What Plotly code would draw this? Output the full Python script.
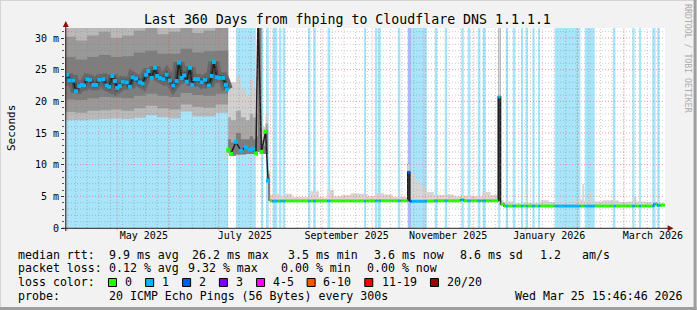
import plotly.graph_objects as go
import pandas as pd

# ---------------- DATA ----------------
title_text = "Last 360 Days from fhping to Cloudflare DNS 1.1.1.1"
x_start = "2025-03-30 15:46"
x_end = "2026-03-25 15:46"
y_top = 31.58

label_dates = ["2025-05-16 23:00", "2025-07-16 14:00", "2025-09-15 14:00",
               "2025-11-15 12:00", "2026-01-15 05:00", "2026-03-18 10:00"]
label_text = ["May 2025", "July 2025", "September 2025", "November 2025",
              "January 2026", "March 2026"]
y_tickvals = [0, 5, 10, 15, 20, 25, 30]
y_ticktext = ["0", "5 m", "10 m", "15 m", "20 m", "25 m", "30 m"]

# loss periods (background colouring)
loss_start = ["2025-03-30 15:46", "2025-07-11 05:00", "2025-07-26 14:00", "2025-07-29 19:00",
              "2025-08-02 05:00", "2025-08-06 14:00", "2025-08-08 05:00", "2025-08-23 13:00",
              "2025-08-26 13:00", "2025-09-04 04:00", "2025-09-26 07:00", "2025-10-03 03:00",
              "2025-10-04 23:00", "2025-10-16 08:00", "2025-10-22 07:00", "2025-10-24 14:00",
              "2025-11-07 12:00", "2025-11-13 12:00", "2025-11-23 12:00", "2025-11-27 07:00",
              "2025-12-03 07:00", "2025-12-06 07:00", "2025-12-15 14:00", "2025-12-20 02:00",
              "2025-12-24 07:00", "2025-12-29 12:00", "2026-01-01 12:00", "2026-01-05 02:00",
              "2026-01-08 12:00", "2026-01-18 12:00", "2026-02-05 12:00", "2026-02-23 00:00",
              "2026-03-06 00:00", "2026-03-10 10:00", "2026-03-18 00:00", "2026-03-21 00:00"]
loss_end = ["2025-07-06 14:00", "2025-07-23 04:00", "2025-07-27 14:00", "2025-07-30 23:00",
            "2025-08-05 02:00", "2025-08-07 11:00", "2025-08-09 17:00", "2025-08-24 21:00",
            "2025-08-28 04:00", "2025-09-05 20:00", "2025-09-27 05:00", "2025-10-04 01:00",
            "2025-10-06 03:00", "2025-10-17 20:00", "2025-10-24 14:00", "2025-11-02 19:00",
            "2025-11-09 00:00", "2025-11-15 00:00", "2025-11-24 22:00", "2025-11-28 22:00",
            "2025-12-04 22:00", "2025-12-08 02:00", "2025-12-16 20:00", "2025-12-21 12:00",
            "2025-12-25 22:00", "2025-12-30 12:00", "2026-01-02 12:00", "2026-01-06 12:00",
            "2026-01-09 12:00", "2026-02-02 22:00", "2026-02-11 12:00", "2026-02-23 22:00",
            "2026-03-07 10:00", "2026-03-11 02:00", "2026-03-20 00:00", "2026-03-22 10:00"]
loss_level = [1, 1, 1, 1, 1, 1, 1, 1, 1, 1, 1, 1, 1, 1, 2, 1, 1, 1, 1, 1, 1, 1, 1, 1,
              1, 1, 1, 1, 1, 1, 1, 1, 1, 1, 1, 1]

# segment A (spring): median rtt (ms)
a_time = ["2025-04-01 00:00", "2025-04-02 06:00", "2025-04-04 15:00", "2025-04-06 06:00",
          "2025-04-08 06:00", "2025-04-09 16:00", "2025-04-11 01:00", "2025-04-13 00:00",
          "2025-04-14 16:00", "2025-04-16 15:00", "2025-04-18 06:00", "2025-04-20 06:00",
          "2025-04-22 15:00", "2025-04-24 16:00", "2025-04-26 05:00", "2025-04-28 00:00",
          "2025-04-29 15:00", "2025-05-01 00:00", "2025-05-02 15:00", "2025-05-04 06:00",
          "2025-05-06 16:00", "2025-05-08 15:00", "2025-05-10 06:00", "2025-05-12 06:00",
          "2025-05-14 15:00", "2025-05-16 06:00", "2025-05-18 06:00", "2025-05-19 15:00",
          "2025-05-21 16:00", "2025-05-23 15:00", "2025-05-25 00:00", "2025-05-26 15:00",
          "2025-05-28 14:00", "2025-05-30 15:00", "2025-06-01 15:00", "2025-06-03 14:00",
          "2025-06-05 15:00", "2025-06-07 00:00", "2025-06-08 15:00", "2025-06-10 05:00",
          "2025-06-11 15:00", "2025-06-13 15:00", "2025-06-15 00:00", "2025-06-16 15:00",
          "2025-06-18 14:00", "2025-06-20 15:00", "2025-06-22 15:00", "2025-06-25 00:00",
          "2025-06-26 15:00", "2025-06-28 00:00", "2025-06-29 15:00", "2025-07-01 04:00",
          "2025-07-03 14:00", "2025-07-05 05:00", "2025-07-05 23:00"]
a_med = [24.2, 23.3, 23.3, 21.6, 22.4, 22.6, 22.5, 23.5, 23.4, 22.6, 22.6, 23.4, 23.5, 22.5,
         22.3, 24.0, 23.2, 22.1, 22.4, 23.1, 23.0, 22.3, 23.8, 23.6, 23.0, 22.8, 24.2, 24.8,
         23.7, 25.3, 24.0, 23.7, 23.5, 24.2, 23.3, 22.5, 23.2, 26.1, 23.7, 24.1, 23.1, 25.3,
         22.6, 23.5, 23.5, 23.0, 23.4, 22.5, 24.0, 26.2, 23.8, 23.7, 23.7, 22.6, 21.9]

# segment A smoke envelopes (ms)
as_time = ["2025-03-30 15:46", "2025-04-06", "2025-04-13", "2025-04-20", "2025-04-27",
           "2025-05-04", "2025-05-11", "2025-05-18", "2025-05-25", "2025-06-01", "2025-06-08",
           "2025-06-15", "2025-06-22", "2025-06-29", "2025-07-06 14:00"]
as_lo = [17.0, 17.0, 17.1, 17.2, 17.3, 17.2, 17.4, 17.8, 17.5, 17.3, 18.4, 17.6, 17.6, 18.2, 18.2]
as_l1 = [18.3, 18.2, 18.5, 18.6, 18.7, 18.5, 18.9, 19.3, 18.9, 18.7, 19.5, 19.1, 19.0, 19.5, 19.5]
as_l2 = [20.3, 20.2, 20.5, 20.7, 20.6, 20.5, 20.9, 21.2, 20.9, 20.7, 21.3, 21.0, 20.9, 21.2, 21.2]
as_h2 = [27.0, 26.6, 27.0, 27.3, 27.0, 27.1, 27.7, 28.0, 27.5, 27.5, 28.3, 27.7, 27.9, 28.0, 28.0]
as_h1 = [30.2, 29.6, 30.4, 31.0, 30.0, 30.4, 31.2, 33.0, 30.6, 31.0, 33.0, 30.8, 31.2, 33.0, 33.0]
as_hi = [40, 40, 40, 40, 40, 40, 40, 40, 40, 40, 40, 40, 40, 40, 40]

# segment B (July)
b_time = ["2025-07-06 14:00", "2025-07-08 05:00", "2025-07-11 05:00", "2025-07-14 05:00",
          "2025-07-17 05:00", "2025-07-19 12:00", "2025-07-21 12:00", "2025-07-23 05:00",
          "2025-07-24 12:00", "2025-07-26 12:00", "2025-07-29 00:00", "2025-07-30 12:00",
          "2025-07-31 14:00"]
b_med = [12.3, 11.7, 13.6, 12.2, 12.8, 12.4, 12.5, 11.8, 34.0, 12.0, 15.2, 7.5, 4.3]
b_lo = [11.9, 11.4, 11.6, 11.6, 11.7, 11.7, 11.7, 11.5, 12.0, 11.7, 11.7, 4.3, 4.3]
b_h2 = [14.0, 13.5, 15.0, 14.0, 14.0, 14.5, 14.0, 14.5, 40.0, 13.0, 15.5, 7.8, 4.6]
b_h1 = [17.5, 17.0, 18.5, 17.5, 17.0, 18.0, 17.5, 18.0, 40.0, 14.0, 16.5, 8.5, 5.0]
b_hi = [22.5, 23.0, 24.0, 22.0, 21.0, 23.5, 22.0, 24.0, 40.0, 16.0, 18.0, 9.0, 5.2]

# segment C/D (Aug - Mar)
c_time = ["2025-07-31 14:00", "2025-08-02 00:00", "2025-08-06 00:00", "2025-08-10 00:00",
          "2025-08-14 00:00", "2025-08-20 00:00", "2025-08-25 00:00", "2025-08-30 00:00",
          "2025-09-04 00:00", "2025-09-08 00:00", "2025-09-13 00:00", "2025-09-18 00:00",
          "2025-09-23 00:00", "2025-09-28 00:00", "2025-10-03 00:00", "2025-10-08 00:00",
          "2025-10-13 00:00", "2025-10-18 00:00", "2025-10-22 07:00", "2025-10-23 14:00",
          "2025-10-27 00:00", "2025-10-30 00:00", "2025-11-02 00:00", "2025-11-07 00:00",
          "2025-11-13 00:00", "2025-11-19 00:00", "2025-11-23 00:00", "2025-11-25 00:00",
          "2025-12-01 00:00", "2025-12-06 00:00", "2025-12-11 00:00", "2025-12-15 14:00",
          "2025-12-17 00:00", "2025-12-19 00:00", "2025-12-25 00:00", "2025-12-30 00:00",
          "2026-01-01 12:00", "2026-01-02 12:00", "2026-01-06 00:00", "2026-01-10 00:00",
          "2026-01-15 00:00", "2026-01-20 00:00", "2026-01-25 00:00", "2026-01-30 00:00",
          "2026-02-04 00:00", "2026-02-05 00:00", "2026-02-08 00:00", "2026-02-09 12:00",
          "2026-02-16 00:00", "2026-02-21 00:00", "2026-02-26 00:00", "2026-03-03 00:00",
          "2026-03-07 00:00", "2026-03-08 12:00", "2026-03-14 00:00", "2026-03-19 00:00",
          "2026-03-21 00:00", "2026-03-23 00:00", "2026-03-25 15:46"]
c_med = [4.30, 4.26, 4.26, 4.28, 4.28, 4.28, 4.28, 4.28, 4.28, 4.28, 4.28, 4.28, 4.28, 4.28,
         4.30, 4.30, 4.30, 4.30, 8.8, 4.22, 4.22, 4.22, 4.25, 4.30, 4.30, 4.30, 4.45, 4.30,
         4.30, 4.30, 4.30, 20.7, 3.75, 3.47, 3.47, 3.47, 3.47, 3.47, 3.47, 3.47, 3.47, 3.47,
         3.47, 3.47, 3.47, 3.47, 3.47, 3.47, 3.47, 3.47, 3.47, 3.47, 3.47, 3.47, 3.47, 3.75,
         3.55, 3.60, 3.60]
c_hi = [5.2, 5.4, 5.0, 5.4, 4.9, 4.9, 5.8, 4.8, 6.0, 5.0, 5.2, 5.5, 5.4, 5.0, 5.5, 5.3, 4.9,
        4.9, 10.2, 8.6, 7.5, 6.5, 5.7, 5.2, 5.3, 5.0, 5.2, 5.1, 5.0, 5.7, 5.2, 40.0, 4.4, 4.2,
        3.9, 4.0, 6.2, 4.0, 4.0, 4.4, 4.1, 4.2, 4.0, 4.5, 7.0, 4.3, 5.7, 4.2, 4.4, 4.4, 4.1,
        4.2, 4.9, 4.2, 4.1, 4.2, 4.1, 4.0, 4.0]

# dark smoke columns (spikes)
spike_time = ["2025-07-25 06:00", "2025-10-22 22:00", "2025-12-16 06:00"]
spike_days = [1.4, 1.2, 1.4]
spike_lo = [12.0, 4.3, 4.3]
spike_hi = [40.0, 10.2, 40.0]

# legend text
stats_rtt = ["9.9 ms avg", "26.2 ms max", "3.5 ms min", "3.6 ms now", "8.6 ms sd", "1.2", "am/s"]
stats_loss = ["0.12 % avg", "9.32 % max", "0.00 % min", "0.00 % now"]
loss_names = ["0", "1", "2", "3", "4-5", "6-10", "11-19", "20/20"]
loss_colors = ["#26ff00", "#00b8ff", "#0059ff", "#7e00ff", "#ff00ff", "#ff5500", "#ff0000", "#a10000"]
probe_text = "20 ICMP Echo Pings (56 Bytes) every 300s"
stamp_text = "Wed Mar 25 15:46:46 2026"

# ---------------- STYLE / LAYOUT HELPERS ----------------
MONO = "DejaVu Sans Mono"
W, H = 697, 310
L, PW, T, PH = 65.0, 600.4, 28.0, 200.0


def fx(p):
    return (p - L) / PW


def fy(p):
    return (T + PH - p) / PH


bg_colors = {1: "#a8e4fa", 2: "#aab9f8"}
line_colors = {0: "#26ff00", 1: "#00b8ff", 2: "#0059ff"}

ls = pd.to_datetime(loss_start)
le = pd.to_datetime(loss_end)


def loss_at(t):
    for s, e, lv in zip(ls, le, loss_level):
        if s <= t < e:
            return lv
    return 0


fig = go.Figure()

# loss background bars
mid = ls + (le - ls) / 2
wid = [(e - s).total_seconds() * 1000 for s, e in zip(ls, le)]
fig.add_trace(go.Bar(x=mid, y=[y_top] * len(mid), base=0, width=wid,
                     marker=dict(color=[bg_colors[v] for v in loss_level], line=dict(width=0)),
                     hoverinfo="skip", showlegend=False))


def band(x, lo, hi, color):
    fig.add_trace(go.Scatter(x=x, y=lo, mode="lines", line=dict(width=0, shape="hv"),
                             hoverinfo="skip", showlegend=False))
    fig.add_trace(go.Scatter(x=x, y=hi, mode="lines", line=dict(width=0, shape="hv"),
                             fill="tonexty", fillcolor=color, hoverinfo="skip", showlegend=False))


# smoke segment A
band(as_time, as_lo, as_hi, "#b9b9b9")
band(as_time, as_l1, as_h1, "#999999")
band(as_time, as_l2, as_h2, "#7e7e7e")
# smoke segment B
band(b_time, b_lo, b_hi, "#d0d0d0")
band(b_time, b_lo, b_h1, "#a8a8a8")
band(b_time, b_lo, b_h2, "#7c7c7c")
# smoke segment C/D
band(c_time, c_med, c_hi, "#d6d6d6")

# spikes
sp_h = [h - l for h, l in zip(spike_hi, spike_lo)]
fig.add_trace(go.Bar(x=pd.to_datetime(spike_time), y=sp_h, base=spike_lo,
                     width=[d * 86400000 for d in spike_days],
                     marker=dict(color="#404040", line=dict(width=0)),
                     hoverinfo="skip", showlegend=False))

# median (segments A & B): dark line with loss-coloured points
for k, (tt, vv) in enumerate(((a_time, a_med), (b_time[:-1], b_med[:-1]))):
    if k == 0:
        fig.add_trace(go.Scatter(x=tt, y=vv, mode="lines", line=dict(width=11, color="#676767"),
                                 hoverinfo="skip", showlegend=False))
        fig.add_trace(go.Scatter(x=tt, y=vv, mode="lines", line=dict(width=5, color="#4a4a4a"),
                                 hoverinfo="skip", showlegend=False))
    fig.add_trace(go.Scatter(x=tt, y=vv, mode="lines", line=dict(width=1.5, color="#1e1e1e"),
                             hoverinfo="skip", showlegend=False))
    cols = [line_colors[loss_at(t)] for t in pd.to_datetime(tt)]
    fig.add_trace(go.Scatter(x=tt, y=vv, mode="markers",
                             marker=dict(symbol="square", size=4, color=cols, line=dict(width=0)),
                             hoverinfo="skip", showlegend=False))

# median segment C/D
ct = pd.to_datetime(c_time)
fig.add_trace(go.Scatter(x=ct, y=c_med, mode="lines", line=dict(width=1.5, color="#1e1e1e", shape="hv"),
                         hoverinfo="skip", showlegend=False))
bps = sorted(set(list(ct) + [t for t in list(ls) + list(le) if ct[0] < t < ct[-1]]))
segs = {0: ([], []), 1: ([], []), 2: ([], [])}
for a, b in zip(bps[:-1], bps[1:]):
    idx = ct.searchsorted(a, side="right") - 1
    v = c_med[idx]
    lv = loss_at(a + (b - a) / 2)
    xs, ys = segs[lv]
    xs += [a, b, None]
    ys += [v, v, None]
for lv, (xs, ys) in segs.items():
    if xs:
        fig.add_trace(go.Scatter(x=xs, y=ys, mode="lines", line=dict(width=3, color=line_colors[lv]),
                                 hoverinfo="skip", showlegend=False, connectgaps=False))

# ---------------- grid (drawn above data like rrdtool) ----------------
shapes = []
minor_grid = "rgba(120,120,120,0.38)"
major_grid = "rgba(255,70,70,0.55)"
for v in range(1, 32):
    shapes.append(dict(type="line", xref="paper", yref="y", x0=0, x1=1, y0=v, y1=v, layer="above",
                       line=dict(color=major_grid if v % 5 == 0 else minor_grid, width=1, dash="1px,2px")))
for d in pd.date_range("2025-04-06", "2026-03-22", freq="7D"):
    shapes.append(dict(type="line", xref="x", yref="paper", x0=d, x1=d, y0=0, y1=1, layer="above",
                       line=dict(color=minor_grid, width=1, dash="1px,2px")))
for d in pd.date_range("2025-04-01", "2026-03-01", freq="MS"):
    shapes.append(dict(type="line", xref="x", yref="paper", x0=d, x1=d, y0=-0.012, y1=1, layer="above",
                       line=dict(color=major_grid, width=1, dash="1px,2px")))

# axes lines + arrows
shapes.append(dict(type="line", xref="paper", yref="paper", x0=fx(62), x1=fx(669), y0=fy(228.3), y1=fy(228.3),
                   layer="above", line=dict(color="#222222", width=1)))
shapes.append(dict(type="line", xref="paper", yref="paper", x0=fx(65.8), x1=fx(65.8), y0=fy(231), y1=fy(25),
                   layer="above", line=dict(color="#222222", width=1)))
shapes.append(dict(type="path", xref="paper", yref="paper", layer="above",
                   path=f"M {fx(65.8)} {fy(21)} L {fx(62.8)} {fy(27)} L {fx(68.8)} {fy(27)} Z",
                   fillcolor="#8b1010", line=dict(width=0)))
shapes.append(dict(type="path", xref="paper", yref="paper", layer="above",
                   path=f"M {fx(674)} {fy(228.3)} L {fx(668)} {fy(225.3)} L {fx(668)} {fy(231.3)} Z",
                   fillcolor="#8b1010", line=dict(width=0)))

# legend colour squares
sq_x = [108.5, 145.7, 182.7, 219.5, 256.7, 307.3, 365.0, 430.7]
for x0, c in zip(sq_x, loss_colors):
    shapes.append(dict(type="rect", xref="paper", yref="paper", x0=fx(x0), x1=fx(x0 + 8),
                       y0=fy(286.5), y1=fy(278.5), fillcolor=c, line=dict(color="#000000", width=1)))

# image border
shapes.append(dict(type="line", xref="paper", yref="paper", x0=fx(0), x1=fx(697), y0=fy(0.5), y1=fy(0.5),
                   line=dict(color="#d4d4d4", width=1)))
shapes.append(dict(type="line", xref="paper", yref="paper", x0=fx(0.5), x1=fx(0.5), y0=fy(0), y1=fy(310),
                   line=dict(color="#d4d4d4", width=1)))
shapes.append(dict(type="line", xref="paper", yref="paper", x0=fx(0), x1=fx(697), y0=fy(308.5), y1=fy(308.5),
                   line=dict(color="#9e9e9e", width=3)))
shapes.append(dict(type="line", xref="paper", yref="paper", x0=fx(695.5), x1=fx(695.5), y0=fy(0), y1=fy(310),
                   line=dict(color="#9e9e9e", width=3)))

# ---------------- text ----------------
ann = []


def text(x, y, s, size=11.6, anchor="left", color="#000000", angle=0):
    ann.append(dict(xref="paper", yref="paper", x=fx(x), y=fy(y), text=s, showarrow=False,
                    xanchor=anchor, yanchor="middle", textangle=angle,
                    font=dict(family=MONO, size=size, color=color)))


text(347.5, 19.3, title_text, size=13.25, anchor="center")
text(11, 128, "Seconds", size=11, anchor="center", angle=-90)
text(688.3, 59, "RRDTOOL / TOBI OETIKER", size=8.2, anchor="center", color="#ababab", angle=90)

text(16, 254.7, "median rtt:")
for x, s in zip([107.3, 190, 286, 372.3, 458.3, 538.3, 580], stats_rtt):
    text(x, 254.7, s)
text(16, 268.3, "packet loss:")
for x, s in zip([107.3, 186, 279.3, 365.7], stats_loss):
    text(x, 268.3, s)
text(16, 282.3, "loss color:")
for x, s in zip([123.3, 160, 197, 234.3, 270.7, 321, 380.7, 445.7], loss_names):
    text(x, 282.3, s)
text(16, 295.8, "probe:")
text(107.3, 295.8, probe_text)
text(513.3, 295.8, stamp_text)

fig.update_layout(
    width=W, height=H, autosize=False,
    margin=dict(l=L, r=W - L - PW, t=T, b=H - T - PH, pad=0),
    paper_bgcolor="#f2f2f2", plot_bgcolor="#ffffff",
    barmode="overlay", showlegend=False,
    shapes=shapes, annotations=ann,
    xaxis=dict(type="date", range=[x_start, x_end], showgrid=False, zeroline=False, showline=False,
               tickmode="array", tickvals=label_dates, ticktext=label_text, ticks="",
               tickfont=dict(family=MONO, size=10, color="#000000")),
    yaxis=dict(range=[0, y_top], showgrid=False, zeroline=False, showline=False,
               tickmode="array", tickvals=y_tickvals, ticktext=y_ticktext,
               ticks="outside", ticklen=3, tickcolor="#333333", tickwidth=1,
               minor=dict(dtick=1, ticks="outside", ticklen=2, tickcolor="#555555", showgrid=False),
               tickfont=dict(family=MONO, size=10, color="#000000")),
)

fig.write_html("out.html")
